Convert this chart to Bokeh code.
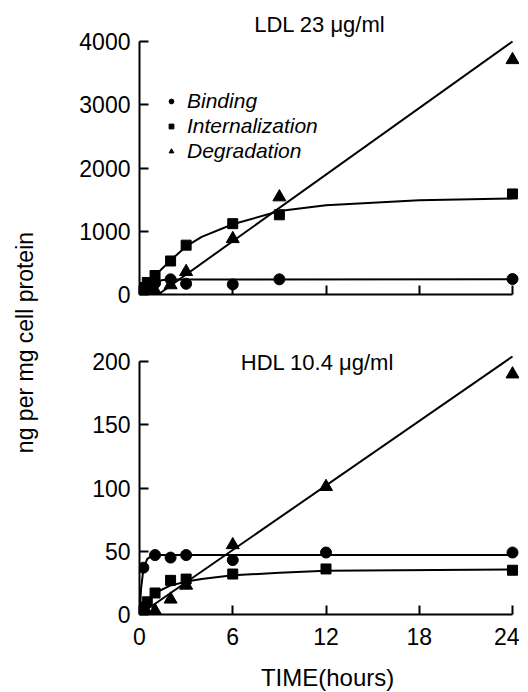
from bokeh.plotting import figure
from bokeh.layouts import row, column
from bokeh.models import Range1d, Label, Legend, LegendItem, FixedTicker
from bokeh.embed import file_html
from bokeh.resources import INLINE

FONT = "Liberation Sans"

# ---------------- data: LDL 23 ug/ml ----------------
ldl_bind_t = [0.25, 0.5, 1, 2, 3, 6, 9, 24]
ldl_bind_y = [70, 120, 180, 240, 170, 160, 240, 245]
ldl_int_t = [0.25, 0.5, 1, 2, 3, 6, 9, 24]
ldl_int_y = [110, 190, 300, 530, 780, 1120, 1260, 1590]
ldl_deg_t = [0.5, 1, 2, 3, 6, 9, 24]
ldl_deg_y = [20, 60, 150, 360, 880, 1540, 3710]
# drawn curves
ldl_bind_fit_t = [0, 0.25, 0.5, 1, 1.5, 2, 24]
ldl_bind_fit_y = [0, 80, 140, 200, 228, 238, 240]
ldl_int_fit_t = [0, 0.5, 1, 2, 3, 4, 6, 9, 12, 18, 24]
ldl_int_fit_y = [0, 160, 300, 540, 760, 910, 1110, 1320, 1410, 1490, 1520]
ldl_deg_fit_t = [1.2, 24]
ldl_deg_fit_y = [0, 4000]

# ---------------- data: HDL 10.4 ug/ml ----------------
hdl_bind_t = [0.25, 1, 2, 3, 6, 12, 24]
hdl_bind_y = [37, 47, 45, 47, 43, 49, 49]
hdl_int_t = [0.25, 0.5, 1, 2, 3, 6, 12, 24]
hdl_int_y = [6, 10, 17, 27, 28, 32, 36, 35]
hdl_deg_t = [0.5, 1, 2, 3, 6, 12, 24]
hdl_deg_y = [1, 3, 12, 23, 55, 101, 190]
hdl_bind_fit_t = [0, 0.1, 0.25, 0.5, 0.75, 1, 24]
hdl_bind_fit_y = [0, 20, 36, 44, 46, 47, 47]
hdl_int_fit_t = [0, 0.5, 1, 2, 3, 4, 6, 9, 12, 24]
hdl_int_fit_y = [0, 10, 17, 23, 26, 28, 31, 33, 34.5, 35.5]
hdl_deg_fit_t = [0, 24]
hdl_deg_fit_y = [0, 204]

x_ticks = [0, 6, 12, 18, 24]
ldl_y_ticks = [0, 1000, 2000, 3000, 4000]
hdl_y_ticks = [0, 50, 100, 150, 200]

series_names = ["Binding", "Internalization", "Degradation"]


def style_axes(p, yticks, show_x_labels):
    p.xgrid.visible = False
    p.ygrid.visible = False
    p.outline_line_color = None
    p.background_fill_color = "white"
    p.border_fill_color = "white"
    for ax in (p.xaxis[0], p.yaxis[0]):
        ax.axis_line_width = 2
        ax.axis_line_color = "black"
        ax.major_tick_line_width = 2
        ax.major_tick_line_color = "black"
        ax.major_tick_in = 9
        ax.major_tick_out = 0
        ax.minor_tick_line_color = None
        ax.major_label_text_font = FONT
        ax.major_label_text_color = "black"
    p.xaxis[0].ticker = FixedTicker(ticks=x_ticks)
    p.xaxis[0].bounds = (0, 24)
    p.yaxis[0].ticker = FixedTicker(ticks=yticks)
    p.yaxis[0].bounds = (yticks[0], yticks[-1])
    p.yaxis[0].major_label_text_font_size = "23px"
    p.yaxis[0].major_label_standoff = 9
    if show_x_labels:
        p.xaxis[0].major_label_text_font_size = "23px"
        p.xaxis[0].major_label_standoff = 13
    else:
        p.xaxis[0].major_label_overrides = {t: "" for t in x_ticks}
        p.xaxis[0].major_label_standoff = 0


def draw(p, bt, by, it, iy, dt, dy, bft, bfy, ift, ify, dft, dfy):
    p.line(bft, bfy, line_color="black", line_width=2)
    p.line(ift, ify, line_color="black", line_width=2)
    p.line(dft, dfy, line_color="black", line_width=2)
    rb = p.scatter(bt, by, marker="circle", size=11, fill_color="black", line_color="black")
    ri = p.scatter(it, iy, marker="square", size=10, fill_color="black", line_color="black")
    rd = p.scatter(dt, dy, marker="triangle", size=13, fill_color="black", line_color="black")
    return rb, ri, rd


def blank_fig(w, h):
    f = figure(width=w, height=h, x_range=Range1d(0, 1), y_range=Range1d(0, 1),
               output_backend="svg", toolbar_location=None,
               min_border_left=0, min_border_right=0, min_border_top=0, min_border_bottom=0)
    f.axis.visible = False
    f.xgrid.visible = False
    f.ygrid.visible = False
    f.outline_line_color = None
    return f


# ---------------- top panel ----------------
p1 = figure(width=472, height=319, x_range=Range1d(0, 24.45), y_range=Range1d(0, 4443),
            output_backend="svg", toolbar_location=None,
            min_border_left=92, min_border_right=0, min_border_top=13, min_border_bottom=25)
style_axes(p1, ldl_y_ticks, False)
rb, ri, rd = draw(p1, ldl_bind_t, ldl_bind_y, ldl_int_t, ldl_int_y, ldl_deg_t, ldl_deg_y,
                  ldl_bind_fit_t, ldl_bind_fit_y, ldl_int_fit_t, ldl_int_fit_y,
                  ldl_deg_fit_t, ldl_deg_fit_y)
p1.add_layout(Label(x=11.8, y=4269, text="LDL  23 μg/ml", text_align="center",
                    text_baseline="middle", text_font=FONT, text_font_size="22px",
                    text_color="black"))
legend = Legend(items=[LegendItem(label=series_names[0], renderers=[rb]),
                       LegendItem(label=series_names[1], renderers=[ri]),
                       LegendItem(label=series_names[2], renderers=[rd])],
                location=(26, 131), orientation="vertical",
                label_text_font=FONT, label_text_font_style="italic",
                label_text_font_size="21px", label_text_color="black",
                glyph_width=12, glyph_height=12, label_standoff=10, spacing=1,
                padding=0, margin=0, border_line_color=None,
                background_fill_alpha=0)
p1.add_layout(legend)

# ---------------- bottom panel ----------------
p2 = figure(width=472, height=335, x_range=Range1d(0, 24.45), y_range=Range1d(0, 217.4),
            output_backend="svg", toolbar_location=None,
            min_border_left=92, min_border_right=0, min_border_top=20, min_border_bottom=40)
style_axes(p2, hdl_y_ticks, True)
draw(p2, hdl_bind_t, hdl_bind_y, hdl_int_t, hdl_int_y, hdl_deg_t, hdl_deg_y,
     hdl_bind_fit_t, hdl_bind_fit_y, hdl_int_fit_t, hdl_int_fit_y,
     hdl_deg_fit_t, hdl_deg_fit_y)
p2.add_layout(Label(x=11.45, y=199, text="HDL 10.4 μg/ml", text_align="center",
                    text_baseline="middle", text_font=FONT, text_font_size="22px",
                    text_color="black"))

# ---------------- x-axis title ----------------
px = blank_fig(472, 37)
px.add_layout(Label(x=0.495, y=0.39, text="TIME(hours)", text_align="center",
                    text_baseline="middle", text_font=FONT, text_font_size="24px",
                    text_color="black"))

# ---------------- shared y label ----------------
pl = blank_fig(47, 691)
pl.add_layout(Label(x=0.53, y=0.505, text="ng per mg cell protein", angle=1.5708,
                    text_align="center", text_baseline="middle", text_font=FONT,
                    text_font_size="23px", text_color="black"))

layout = row(pl, column(p1, p2, px))
open("out.html", "w").write(file_html(layout, INLINE))
